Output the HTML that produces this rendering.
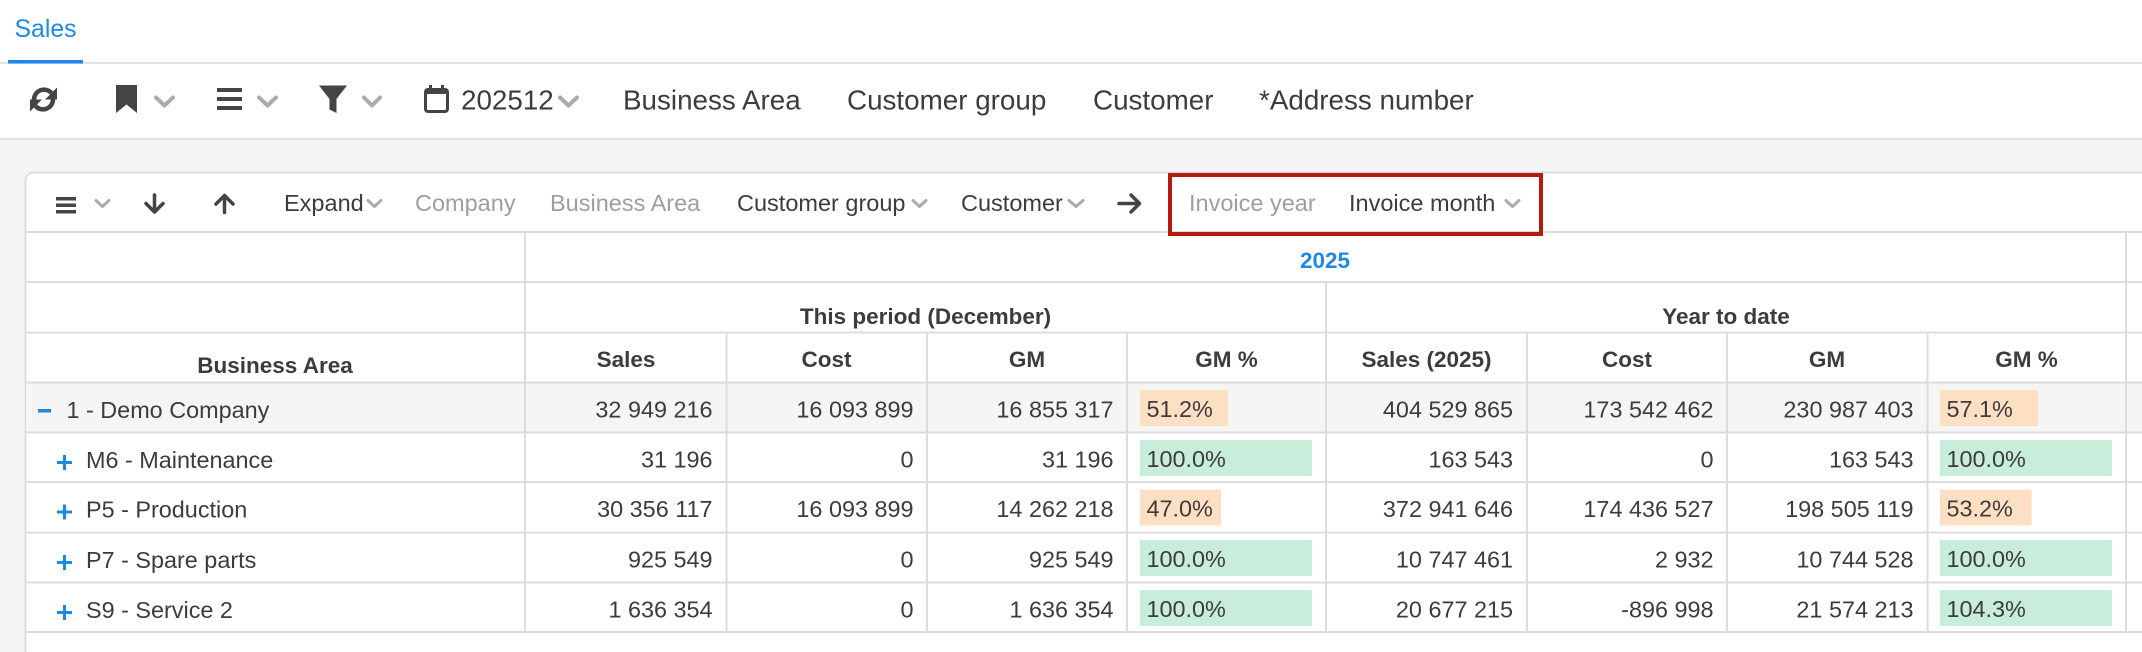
<!DOCTYPE html>
<html><head><meta charset="utf-8"><style>
html,body{margin:0;padding:0;background:#fff;}
body{width:2142px;height:652px;overflow:hidden;}
svg{display:block;}
text{font-family:"Liberation Sans",Arial,sans-serif;}
.tb{font-size:27.8px;fill:#3c3c3c;}
.pt{font-size:23.5px;fill:#3c3c3c;}
.gr{fill:#9e9e9e;}
.h{font-size:22.5px;font-weight:bold;fill:#3c3c3c;}
.d{font-size:23.4px;fill:#3c3c3c;}
.n{font-size:23.4px;fill:#3c3c3c;text-anchor:end;}
.c{text-anchor:middle;}
</style></head><body>
<svg width="2142" height="652" viewBox="0 0 2142 652" xmlns="http://www.w3.org/2000/svg">
<!-- tab bar -->
<rect x="0" y="0" width="2142" height="140" fill="#fff"/>
<text x="14.5" y="37" style="font-size:24.8px;fill:#1e88e5">Sales</text>
<rect x="0" y="62" width="2142" height="2" fill="#e2e2e2"/>
<rect x="8" y="60" width="75" height="3.5" fill="#1e88e5"/>
<!-- toolbar -->
<g fill="#444" stroke="none">
  <path d="M34,100 A10,10 0 0 1 51.5,93" fill="none" stroke="#444" stroke-width="4.5"/>
  <polygon points="57,87.5 57,99.5 45,99.5"/>
  <path d="M53,99.5 A10,10 0 0 1 35.5,106" fill="none" stroke="#444" stroke-width="4.5"/>
  <polygon points="30,111.5 30,99.5 42,99.5"/>
  <polygon points="116,85 137,85 137,113 126.5,104.5 116,113"/>
  <rect x="217" y="88" width="25" height="4"/>
  <rect x="217" y="97" width="25" height="4"/>
  <rect x="217" y="106" width="25" height="4"/>
  <polygon points="319,85.5 347,85.5 336.5,99 336.5,113 329.5,109.5 329.5,99"/>
  <rect x="425.5" y="89.5" width="22" height="22" rx="2.5" fill="none" stroke="#444" stroke-width="3"/>
  <rect x="425" y="89" width="23" height="5"/>
  <rect x="429" y="85" width="3" height="6"/>
  <rect x="441" y="85" width="3" height="6"/>
</g>
<g fill="none" stroke="#ababab" stroke-width="4" stroke-linecap="round" stroke-linejoin="round">
  <polyline points="156,97.5 164.5,105.5 173,97.5"/>
  <polyline points="259,97.5 267.5,105.5 276,97.5"/>
  <polyline points="364,97.5 372,105.5 380,97.5"/>
  <polyline points="560,97.5 568.5,105.5 577,97.5"/>
</g>
<text class="tb" x="461" y="109.5">202512</text>
<text class="tb" x="623" y="109.5">Business Area</text>
<text class="tb" x="847" y="109.5">Customer group</text>
<text class="tb" x="1093" y="109.5">Customer</text>
<text class="tb" x="1259" y="109.5">*Address number</text>
<rect x="0" y="138" width="2142" height="2" fill="#e0e0e0"/>
<!-- gray background -->
<rect x="0" y="140" width="2142" height="512" fill="#f4f4f4"/>
<!-- panel -->
<rect x="26" y="173" width="2116" height="479" fill="#fff"/>
<path d="M25.5,652 V180.5 A8,8 0 0 1 33.5,172.5 H2142" fill="none" stroke="#dcdcdc" stroke-width="2"/>
<!-- panel toolbar -->
<g fill="#444">
  <rect x="56" y="197" width="20" height="3.5"/>
  <rect x="56" y="203.5" width="20" height="3.5"/>
  <rect x="56" y="210" width="20" height="3.5"/>
</g>
<g fill="none" stroke="#444" stroke-width="3.5" stroke-linecap="round" stroke-linejoin="round">
  <line x1="154.5" y1="195" x2="154.5" y2="211.5"/>
  <polyline points="146,203.5 154.5,212 163,203.5"/>
  <line x1="224.5" y1="212.5" x2="224.5" y2="196"/>
  <polyline points="216,204 224.5,195.5 233,204"/>
  <line x1="1119" y1="203.5" x2="1139" y2="203.5"/>
  <polyline points="1131,195 1139.5,203.5 1131,212"/>
</g>
<g fill="none" stroke="#ababab" stroke-width="3" stroke-linecap="round" stroke-linejoin="round">
  <polyline points="96,200.5 102.5,206.5 109,200.5"/>
  <polyline points="368,200.5 374.5,206.5 381,200.5"/>
  <polyline points="913,200.5 919.5,206.5 926,200.5"/>
  <polyline points="1069,200.5 1076,206.5 1083,200.5"/>
  <polyline points="1506,200.5 1512.5,206.5 1519,200.5"/>
</g>
<text class="pt" x="284" y="211">Expand</text>
<text class="pt gr" x="415" y="211">Company</text>
<text class="pt gr" x="550" y="211">Business Area</text>
<text class="pt" x="737" y="211">Customer group</text>
<text class="pt" x="961" y="211">Customer</text>
<text class="pt gr" x="1189" y="211">Invoice year</text>
<text class="pt" x="1349" y="211">Invoice month</text>
<!-- demo row background -->
<rect x="26" y="383" width="2116" height="49" fill="#f5f5f5"/>
<!-- grid lines -->
<g fill="#dcdcdc">
  <rect x="26" y="231" width="2116" height="2"/>
  <rect x="26" y="281" width="2116" height="2"/>
  <rect x="26" y="331.5" width="2116" height="2"/>
  <rect x="26" y="381.5" width="2116" height="2"/>
  <rect x="26" y="431.5" width="2116" height="2"/>
  <rect x="26" y="481" width="2116" height="2"/>
  <rect x="26" y="531.5" width="2116" height="2"/>
  <rect x="26" y="581.5" width="2116" height="2"/>
  <rect x="26" y="631" width="2116" height="2"/>
  <rect x="524" y="232" width="2" height="400"/>
  <rect x="2125" y="232" width="2" height="400"/>
  <rect x="1325" y="282" width="2" height="350"/>
  <rect x="725.5" y="332" width="2" height="300"/>
  <rect x="926" y="332" width="2" height="300"/>
  <rect x="1126" y="332" width="2" height="300"/>
  <rect x="1526" y="332" width="2" height="300"/>
  <rect x="1726" y="332" width="2" height="300"/>
  <rect x="1926.5" y="332" width="2" height="300"/>
</g>
<!-- red box -->
<rect x="1170" y="175" width="371" height="59" fill="none" stroke="#b31b10" stroke-width="4"/>
<!-- headers -->
<text class="h c" x="1325" y="268" style="fill:#1e88e5">2025</text>
<text class="h c" x="925.5" y="324">This period (December)</text>
<text class="h c" x="1726" y="324">Year to date</text>
<text class="h c" x="275" y="373">Business Area</text>
<text class="h c" x="626" y="367">Sales</text>
<text class="h c" x="826.5" y="367">Cost</text>
<text class="h c" x="1027" y="367">GM</text>
<text class="h c" x="1226.5" y="367">GM %</text>
<text class="h c" x="1426.5" y="367">Sales (2025)</text>
<text class="h c" x="1627" y="367">Cost</text>
<text class="h c" x="1827" y="367">GM</text>
<text class="h c" x="2026.5" y="367">GM %</text>
<!-- row labels -->
<rect x="38" y="409" width="13" height="3.5" fill="#1e88e5"/>
<text class="d" x="66.5" y="418">1 - Demo Company</text>
<g fill="#1e88e5">
  <rect x="57" y="461" width="15" height="3"/><rect x="63" y="455" width="3" height="15"/>
  <rect x="57" y="510.5" width="15" height="3"/><rect x="63" y="504.5" width="3" height="15"/>
  <rect x="57" y="561" width="15" height="3"/><rect x="63" y="555" width="3" height="15"/>
  <rect x="57" y="611" width="15" height="3"/><rect x="63" y="605" width="3" height="15"/>
</g>
<text class="d" x="86" y="468">M6 - Maintenance</text>
<text class="d" x="86" y="517.5">P5 - Production</text>
<text class="d" x="86" y="568">P7 - Spare parts</text>
<text class="d" x="86" y="618">S9 - Service 2</text>
<!-- badges -->
<rect x="1140" y="390" width="88" height="36" fill="#fde0c3"/>
<rect x="1940" y="390" width="98" height="36" fill="#fde0c3"/>
<rect x="1140" y="440" width="172" height="36" fill="#c9eddb"/>
<rect x="1940" y="440" width="172" height="36" fill="#c9eddb"/>
<rect x="1140" y="489.5" width="81" height="36" fill="#fde0c3"/>
<rect x="1940" y="489.5" width="91.5" height="36" fill="#fde0c3"/>
<rect x="1140" y="540" width="172" height="36" fill="#c9eddb"/>
<rect x="1940" y="540" width="172" height="36" fill="#c9eddb"/>
<rect x="1140" y="590" width="172" height="36" fill="#c9eddb"/>
<rect x="1940" y="590" width="172" height="36" fill="#c9eddb"/>
<!-- row 1 -->
<text class="n" x="712.5" y="417.5">32 949 216</text>
<text class="n" x="913.5" y="417.5">16 093 899</text>
<text class="n" x="1113.5" y="417.5">16 855 317</text>
<text class="d" x="1146.5" y="417">51.2%</text>
<text class="n" x="1513" y="417.5">404 529 865</text>
<text class="n" x="1713.5" y="417.5">173 542 462</text>
<text class="n" x="1913.5" y="417.5">230 987 403</text>
<text class="d" x="1946.5" y="417">57.1%</text>
<!-- row 2 -->
<text class="n" x="712.5" y="467.5">31 196</text>
<text class="n" x="913.5" y="467.5">0</text>
<text class="n" x="1113.5" y="467.5">31 196</text>
<text class="d" x="1146.5" y="467">100.0%</text>
<text class="n" x="1513" y="467.5">163 543</text>
<text class="n" x="1713.5" y="467.5">0</text>
<text class="n" x="1913.5" y="467.5">163 543</text>
<text class="d" x="1946.5" y="467">100.0%</text>
<!-- row 3 -->
<text class="n" x="712.5" y="517">30 356 117</text>
<text class="n" x="913.5" y="517">16 093 899</text>
<text class="n" x="1113.5" y="517">14 262 218</text>
<text class="d" x="1146.5" y="516.5">47.0%</text>
<text class="n" x="1513" y="517">372 941 646</text>
<text class="n" x="1713.5" y="517">174 436 527</text>
<text class="n" x="1913.5" y="517">198 505 119</text>
<text class="d" x="1946.5" y="516.5">53.2%</text>
<!-- row 4 -->
<text class="n" x="712.5" y="567.5">925 549</text>
<text class="n" x="913.5" y="567.5">0</text>
<text class="n" x="1113.5" y="567.5">925 549</text>
<text class="d" x="1146.5" y="567">100.0%</text>
<text class="n" x="1513" y="567.5">10 747 461</text>
<text class="n" x="1713.5" y="567.5">2 932</text>
<text class="n" x="1913.5" y="567.5">10 744 528</text>
<text class="d" x="1946.5" y="567">100.0%</text>
<!-- row 5 -->
<text class="n" x="712.5" y="617.5">1 636 354</text>
<text class="n" x="913.5" y="617.5">0</text>
<text class="n" x="1113.5" y="617.5">1 636 354</text>
<text class="d" x="1146.5" y="617">100.0%</text>
<text class="n" x="1513" y="617.5">20 677 215</text>
<text class="n" x="1713.5" y="617.5">-896 998</text>
<text class="n" x="1913.5" y="617.5">21 574 213</text>
<text class="d" x="1946.5" y="617">104.3%</text>
</svg>
</body></html>
